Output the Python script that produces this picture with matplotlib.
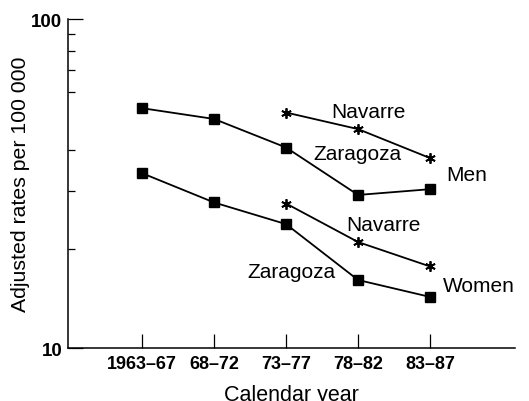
import matplotlib
matplotlib.use("Agg")
import matplotlib.pyplot as plt
from matplotlib.ticker import FixedLocator, NullFormatter, FixedFormatter

plt.rcParams["font.family"] = ["Liberation Sans", "DejaVu Sans"]

# data
periods = ["1963\u201367", "68\u201372", "73\u201377", "78\u201382", "83\u201387"]
men_zaragoza = [53.6, 49.7, 40.7, 29.2, 30.4]
men_navarre = [52.0, 46.3, 37.8]
women_zaragoza = [34.0, 27.7, 23.8, 16.1, 14.3]
women_navarre = [27.5, 21.0, 17.7]

x_all = list(range(len(periods)))
x_nav = x_all[2:]

fig = plt.figure(figsize=(5.29, 4.02), dpi=100)
ax = fig.add_axes([0.1285, 0.1318, 0.845, 0.8182])

line_kw = dict(color="black", linewidth=1.3)
sq = dict(marker="s", markersize=6.5, markerfacecolor="black", markeredgecolor="black")
st = dict(marker=(6, 2, 0), markersize=7.5, markeredgewidth=1.3, markeredgecolor="black")

ax.plot(x_all, men_zaragoza, **line_kw, **sq)
ax.plot(x_nav, men_navarre, **line_kw, **st)
ax.plot(x_all, women_zaragoza, **line_kw, **sq)
ax.plot(x_nav, women_navarre, **line_kw, **st)

ax.set_yscale("log")
ax.set_ylim(10, 100)
ax.set_xlim(-1.03, 5.18)

ax.yaxis.set_major_locator(FixedLocator([10, 100]))
ax.yaxis.set_major_formatter(FixedFormatter(["10", "100"]))
ax.yaxis.set_minor_locator(FixedLocator([20, 30, 40, 60, 70, 80, 90]))
ax.yaxis.set_minor_formatter(NullFormatter())

ax.set_xticks(x_all)
ax.set_xticklabels(periods)

for s in ["top", "right"]:
    ax.spines[s].set_visible(False)
for s in ["left", "bottom"]:
    ax.spines[s].set_linewidth(1.1)

ax.tick_params(axis="y", which="major", direction="in", length=11, width=0.9,
               labelsize=13.5, pad=4)
ax.tick_params(axis="y", which="minor", direction="in", length=5, width=0.9)
ax.tick_params(axis="x", which="major", direction="in", length=10, width=0.9,
               labelsize=13, pad=5)
for lab in ax.get_xticklabels() + ax.get_yticklabels():
    lab.set_fontweight("bold")

ax.set_xlabel("Calendar year", fontsize=15.5, labelpad=9)
ax.set_ylabel("Adjusted rates per 100 000", fontsize=15.3)
ax.yaxis.set_label_coords(-0.085, 0.5)

tk = dict(fontsize=15, ha="center", va="center")
ax.text(3.14, 52.2, "Navarre", **tk)
ax.text(2.99, 38.9, "Zaragoza", **tk)
ax.text(4.51, 33.6, "Men", **tk)
ax.text(3.35, 23.8, "Navarre", **tk)
ax.text(2.08, 17.06, "Zaragoza", **tk)
ax.text(4.68, 15.5, "Women", **tk)

fig.savefig("out.png", dpi=100)
